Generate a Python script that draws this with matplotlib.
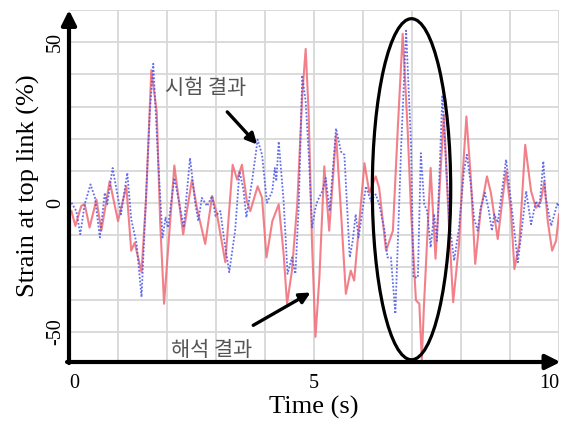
import numpy as np
import matplotlib
matplotlib.use("Agg")
import matplotlib.pyplot as plt
from matplotlib.patches import Ellipse

# 해석 결과 (analysis) - red solid
t_red = [0.05, 0.13, 0.25, 0.32, 0.42, 0.56, 0.66, 0.83, 1.00, 1.17, 1.27, 1.34, 1.48, 1.57,
         1.68, 1.79, 1.86, 1.94, 2.02, 2.15, 2.33, 2.51, 2.61, 2.78, 2.92, 3.02, 3.19, 3.34,
         3.43, 3.53, 3.63, 3.70, 3.85, 3.94, 4.03, 4.15, 4.28, 4.38, 4.45, 4.55, 4.66, 4.76,
         4.83, 4.89, 4.96, 5.03, 5.11, 5.21, 5.31, 5.45, 5.55, 5.65, 5.75, 5.82, 6.03, 6.13,
         6.26, 6.33, 6.47, 6.61, 6.71, 6.81, 6.91, 6.98, 7.08, 7.15, 7.20, 7.24, 7.38, 7.48,
         7.65, 7.75, 7.84, 7.96, 8.03, 8.11, 8.20, 8.29, 8.40, 8.53, 8.61, 8.75, 8.85, 8.92,
         9.02, 9.09, 9.19, 9.31, 9.43, 9.53, 9.63, 9.70, 9.77, 9.86, 9.94, 10.0]
s_red = [-2.5, -7.1, -0.9, -0.3, -7.6, 1.1, -8.6, 6.8, -5.6, 5.2, -14.8, -12.3, -21.5, 0.6,
         41.3, 28.4, -5.6, -31.3, -14.8, 11.7, -9.7, 7.3, -1.5, -12.7, 2.2, -3.5, -18.4, 11.9,
         7.3, 11.9, 0.6, -2.5, 5.2, 1.6, -16.9, -5.6, -0.4, -15.8, -31.3, -21.0, 0.1, 33.5,
         47.9, 28.4, -12.7, -41.6, -23.1, 11.4, -8.6, 21.2, -2.5, -28.2, -21.0, -24.1, 12.4, 3.2,
         8.3, 4.7, -14.8, -8.6, 23.2, 52.6, 23.2, -2.5, -30.2, -31.3, -48.8, -33.3, 10.9, -17.3,
         27.5, -5.6, -30.8, -12.7, 7.8, 26.9, 7.8, -18.9, -2.5, 8.3, 3.2, -11.2, 1.6, 9.9,
         -2.5, -20.5, -12.7, 18.1, 3.7, -1.5, 0.6, 6.8, -5.6, -14.8, -11.7, -3.5]

# 시험 결과 (test) - blue dotted
t_blue = [0.05, 0.15, 0.23, 0.32, 0.44, 0.53, 0.63, 0.73, 0.78, 0.89, 1.06, 1.19, 1.27, 1.38,
          1.48, 1.65, 1.72, 1.82, 1.91, 1.97, 2.02, 2.15, 2.23, 2.34, 2.47, 2.58, 2.64, 2.71,
          2.82, 2.92, 2.99, 3.09, 3.16, 3.27, 3.39, 3.48, 3.56, 3.62, 3.74, 3.85, 3.94, 4.04,
          4.15, 4.20, 4.23, 4.28, 4.38, 4.46, 4.55, 4.62, 4.69, 4.76, 4.83, 4.89, 4.96, 5.03,
          5.07, 5.17, 5.24, 5.32, 5.45, 5.55, 5.62, 5.73, 5.79, 5.85, 5.91, 6.06, 6.16, 6.26,
          6.33, 6.44, 6.50, 6.57, 6.66, 6.78, 6.88, 6.98, 7.03, 7.12, 7.18, 7.25, 7.31, 7.38,
          7.45, 7.51, 7.62, 7.76, 7.86, 7.96, 8.06, 8.12, 8.20, 8.27, 8.34, 8.40, 8.49, 8.57,
          8.63, 8.68, 8.75, 8.92, 9.02, 9.16, 9.26, 9.33, 9.43, 9.53, 9.60, 9.68, 9.73, 9.84,
          9.97, 10.0]
s_blue = [0.1, -2.5, -9.7, -0.4, 5.8, 1.6, -10.7, 3.2, -0.4, 10.9, -3.5, 9.4, -5.0, -12.7,
          -29.2, 28.4, 43.3, 13.0, -10.7, -4.5, -7.6, 7.8, 1.6, -7.6, 14.0, -0.4, -5.6, 1.6,
          -0.9, 2.2, -4.0, -2.5, -10.7, -21.5, -8.6, 9.9, 4.2, -4.5, 7.3, 19.7, 15.0, 0.1,
          3.7, 10.9, 6.8, 19.1, 0.6, -22.0, -16.9, -22.0, -0.4, 39.7, 31.5, 16.0, -7.6, -1.5,
          0.6, 3.7, 7.8, -2.5, 23.2, 16.0, 15.0, -16.9, -11.7, -3.5, -10.7, 5.2, 0.6, 2.7,
          -0.4, -8.6, -16.9, -16.9, -34.4, 18.1, 53.6, 18.1, -23.1, -23.1, 15.5, -0.4, -2.5, -13.8,
          -3.4, -11.7, 33.5, -5.6, -17.9, -7.6, 9.9, 15.0, 5.8, -5.0, -8.6, -1.5, 3.2, -2.5,
          -8.6, -3.5, -6.1, 13.5, 0.6, -18.4, -5.6, 3.7, -6.6, 0.6, -1.5, 13.0, 1.6, -7.1,
          0.1, -1.5]

x_ticks = [0, 5, 10]
y_ticks = [50, 0, -40]
y_tick_labels = ['50', '0', '-50']

serif = 'Liberation Serif'
kr = ['Noto Sans CJK KR', 'DejaVu Sans']

fig = plt.figure(figsize=(5.66, 4.24), dpi=100)
ax = fig.add_axes([69 / 566, 1 - 362 / 424, 490 / 566, 352 / 424])

ax.set_xlim(0, 10)
ax.set_ylim(-49.4, 60)

# grid
for gx in np.arange(1, 11, 1):
    ax.axvline(gx, color='#d8d8d8', lw=1.3, zorder=0)
for gy in np.arange(-40, 61, 10):
    ax.axhline(gy, color='#d8d8d8', lw=1.3, zorder=0)

ax.plot(t_red, s_red, color='#f06a75', lw=1.5, alpha=0.85, zorder=2)
ax.plot(t_blue, s_blue, color='#4a55e6', lw=1.3, ls=(0, (1, 1)), alpha=0.85, zorder=3)

for sp in ax.spines.values():
    sp.set_visible(False)

ax.set_xticks(x_ticks)
ax.set_xticklabels([str(v) for v in x_ticks], fontfamily=serif, fontsize=14.5)
labels = ax.get_xticklabels()
labels[0].set_ha('left')
labels[-1].set_ha('right')
ax.set_yticks(y_ticks)
ax.set_yticklabels(y_tick_labels, fontfamily=serif, fontsize=14.5, rotation=90, va='center')
ax.tick_params(axis='x', length=0, pad=9)
ax.tick_params(axis='y', length=0, pad=3)

ax.set_xlabel('Time (s)', fontfamily=serif, fontsize=19, labelpad=2)
ax.set_ylabel('Strain at top link (%)', fontfamily=serif, fontsize=19, labelpad=4)

# axis arrows
ax.annotate('', xy=(0, 1.0), xytext=(0, -0.003), xycoords='axes fraction',
            arrowprops=dict(arrowstyle='-|>', lw=3, color='black', mutation_scale=22,
                            shrinkA=0, shrinkB=0), annotation_clip=False)
ax.annotate('', xy=(1.003, 0), xytext=(-0.004, 0), xycoords='axes fraction',
            arrowprops=dict(arrowstyle='-|>', lw=3, color='black', mutation_scale=22,
                            shrinkA=0, shrinkB=0), annotation_clip=False)

# highlight ellipse
ax.add_patch(Ellipse((6.99, 4.3), 1.6, 106, fill=False, lw=2.3, edgecolor='black', zorder=4))

# annotations
ax.annotate('시험 결과', xy=(3.84, 18.2), xytext=(2.78, 35.8), ha='center', va='center',
            fontsize=15, color='#555555', family=kr, fontweight='light',
            arrowprops=dict(arrowstyle='-|>', lw=2.4, color='black', mutation_scale=16,
                            shrinkA=10, shrinkB=0))
ax.text(2.9, -45.7, '해석 결과', ha='center', va='center', fontsize=15,
        color='#555555', family=kr, fontweight='light')
ax.annotate('', xy=(4.93, -27.8), xytext=(3.76, -38.0),
            arrowprops=dict(arrowstyle='-|>', lw=2.4, color='black', mutation_scale=16,
                            shrinkA=0, shrinkB=0))

fig.savefig('out.png', dpi=100)
